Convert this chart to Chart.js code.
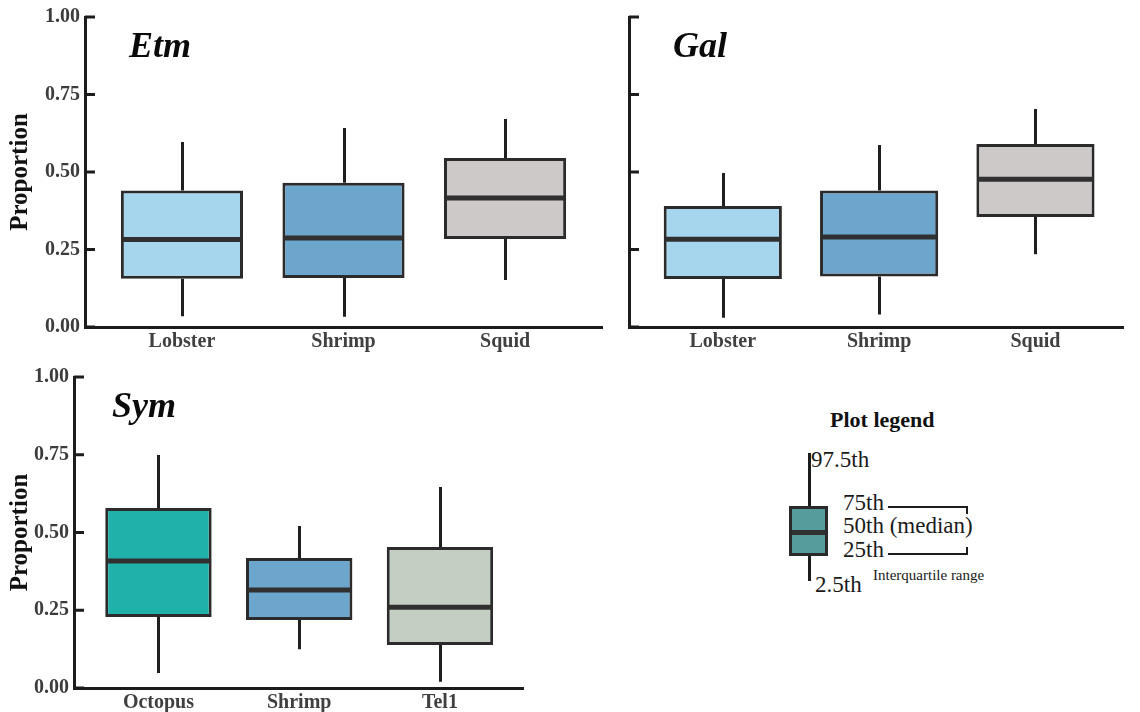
<!DOCTYPE html>
<html>
<head>
<meta charset="utf-8">
<script src="https://cdn.jsdelivr.net/npm/chart.js@4.4.1/dist/chart.umd.min.js"></script>
<style>
html,body{margin:0;padding:0;background:#fff;}
#wrap{position:relative;width:1140px;height:712px;overflow:hidden;font-family:"Liberation Serif","Times New Roman",serif;}
.panel{position:absolute;}
.t{position:absolute;line-height:1;white-space:nowrap;color:#111;}
.title{font-weight:bold;font-style:italic;font-size:36px;color:#0a0a0a;}
.lg{font-size:23px;color:#1a1a1a;}
.ln{position:absolute;background:#1c1c1c;}
</style>
</head>
<body>
<div id="wrap">
  <div class="panel" style="left:0;top:0;width:610px;height:360px"><canvas id="cEtm"></canvas></div>
  <div class="panel" style="left:610px;top:0;width:530px;height:360px"><canvas id="cGal"></canvas></div>
  <div class="panel" style="left:0;top:360px;width:560px;height:352px"><canvas id="cSym"></canvas></div>

  <div class="t title" style="left:129px;top:27px">Etm</div>
  <div class="t title" style="left:673px;top:27px">Gal</div>
  <div class="t title" style="left:112px;top:387px">Sym</div>

  <!-- Plot legend -->
  <div class="t" style="left:830px;top:409px;font-weight:bold;font-size:22px;">Plot legend</div>
  <div class="ln" style="left:807.5px;top:453px;width:3px;height:54px"></div>
  <div class="ln" style="left:807.5px;top:555px;width:3px;height:26px"></div>
  <div style="position:absolute;left:789px;top:506px;width:33px;height:44px;border:3px solid #2a2a2a;background:#579c9c;"></div>
  <div class="ln" style="left:792px;top:529.5px;width:33px;height:5px;background:#303030"></div>
  <div class="t lg" style="left:811px;top:448px">97.5th</div>
  <div class="t lg" style="left:843px;top:491px">75th</div>
  <div class="t lg" style="left:843px;top:514px">50th (median)</div>
  <div class="t lg" style="left:843px;top:538px">25th</div>
  <div class="t lg" style="left:815px;top:573px">2.5th</div>
  <div class="t" style="left:873px;top:568px;font-size:15px;color:#1a1a1a">Interquartile range</div>
  <div style="position:absolute;left:888px;top:506px;width:78px;height:6px;border-top:2.5px solid #1c1c1c;border-right:2.5px solid #1c1c1c;"></div>
  <div style="position:absolute;left:888px;top:547px;width:78px;height:6px;border-bottom:2.5px solid #1c1c1c;border-right:2.5px solid #1c1c1c;"></div>
</div>

<script>
// ---------- Data ----------
const yTickValues = [0, 0.25, 0.5, 0.75, 1];

// Etm panel
const etmCategories = ['Lobster', 'Shrimp', 'Squid'];
const etmLow    = [0.035, 0.033, 0.152];   // 2.5th percentile
const etmQ1     = [0.156, 0.158, 0.284];   // 25th
const etmMedian = [0.282, 0.287, 0.416];   // 50th
const etmQ3     = [0.440, 0.465, 0.545];   // 75th
const etmHigh   = [0.597, 0.642, 0.671];   // 97.5th
const etmColors = ['#a6d5ee', '#6ca6cd', '#cdc9c9'];

// Gal panel
const galCategories = ['Lobster', 'Shrimp', 'Squid'];
const galLow    = [0.030, 0.040, 0.235];
const galQ1     = [0.155, 0.163, 0.355];
const galMedian = [0.283, 0.290, 0.477];
const galQ3     = [0.390, 0.440, 0.590];
const galHigh   = [0.497, 0.587, 0.703];
const galColors = ['#a6d5ee', '#6ca6cd', '#cdc9c9'];

// Sym panel
const symCategories = ['Octopus', 'Shrimp', 'Tel1'];
const symLow    = [0.048, 0.125, 0.020];
const symQ1     = [0.228, 0.219, 0.138];
const symMedian = [0.408, 0.315, 0.260];
const symQ3     = [0.579, 0.418, 0.453];
const symHigh   = [0.749, 0.521, 0.646];
const symColors = ['#20b2aa', '#6ca6cd', '#c3cfc2'];

// ---------- Box-plot parts plugin (whiskers, medians, inward ticks) ----------
const boxParts = {
  id: 'boxParts',
  beforeDatasetsDraw(chart) {
    const ds = chart.data.datasets[0];
    const meta = chart.getDatasetMeta(0);
    const y = chart.scales.y;
    const ctx = chart.ctx;
    ctx.save();
    ctx.strokeStyle = '#1f1f1f';
    ctx.lineWidth = 3;
    meta.data.forEach((bar, i) => {
      const px = Math.round(bar.x) + 0.5;
      ctx.beginPath();
      ctx.moveTo(px, y.getPixelForValue(ds.high[i]));
      ctx.lineTo(px, y.getPixelForValue(ds.data[i].y[1]));
      ctx.moveTo(px, y.getPixelForValue(ds.data[i].y[0]));
      ctx.lineTo(px, y.getPixelForValue(ds.low[i]));
      ctx.stroke();
    });
    ctx.restore();
  },
  afterDatasetsDraw(chart) {
    const ds = chart.data.datasets[0];
    const meta = chart.getDatasetMeta(0);
    const y = chart.scales.y;
    const ctx = chart.ctx;
    ctx.save();
    ctx.strokeStyle = '#303030';
    ctx.lineWidth = 5;
    meta.data.forEach((bar, i) => {
      const py = y.getPixelForValue(ds.median[i]);
      ctx.beginPath();
      ctx.moveTo(bar.x - bar.width / 2 + 2, py);
      ctx.lineTo(bar.x + bar.width / 2 - 2, py);
      ctx.stroke();
    });
    // inward tick marks on the y axis
    ctx.strokeStyle = '#1c1c1c';
    ctx.lineWidth = 3;
    const left = chart.chartArea.left;
    y.ticks.forEach((t, i) => {
      const py = y.getPixelForTick(i);
      ctx.beginPath();
      ctx.moveTo(left, py);
      ctx.lineTo(left + 10, py);
      ctx.stroke();
    });
    ctx.restore();
  }
};

const FONT = "'Liberation Serif', 'Times New Roman', serif";

function makeBoxChart(id, cats, low, q1, med, q3, high, colors, cfg) {
  const data = cats.map((c, i) => ({ x: i, y: [q1[i], q3[i]] }));
  return new Chart(document.getElementById(id), {
    type: 'bar',
    data: {
      datasets: [{
        data: data,
        low: low,
        high: high,
        median: med,
        backgroundColor: colors,
        borderColor: '#2b2b2b',
        borderWidth: 3,
        borderSkipped: false,
        barPercentage: 0.756,
        categoryPercentage: 1.0
      }]
    },
    options: {
      responsive: true,
      maintainAspectRatio: false,
      animation: false,
      layout: { padding: cfg.padding },
      plugins: { legend: { display: false }, tooltip: { enabled: false } },
      scales: {
        x: {
          type: 'linear',
          min: cfg.xmin,
          max: cfg.xmax,
          offset: false,
          grid: { display: false, drawTicks: false },
          border: { display: true, width: 3, color: '#1c1c1c' },
          afterBuildTicks: (s) => { s.ticks = cats.map((c, i) => ({ value: i })); },
          afterFit: (s) => { s.height = cfg.xHeight; },
          ticks: {
            autoSkip: false,
            maxRotation: 0,
            padding: 3,
            color: '#404040',
            font: { family: FONT, size: 20, weight: 'bold' },
            callback: (v) => cats[v]
          }
        },
        y: {
          min: 0,
          max: 1,
          grid: { display: false, drawTicks: false },
          border: { display: true, width: 3, color: '#1c1c1c' },
          afterBuildTicks: (s) => { s.ticks = yTickValues.map(v => ({ value: v })); },
          afterFit: (s) => { s.width = cfg.yWidth; },
          title: {
            display: cfg.showTitle,
            text: 'Proportion',
            color: '#111',
            font: { family: FONT, size: 25, weight: 'bold' },
            padding: { top: 6, bottom: 0 }
          },
          ticks: {
            display: cfg.showTicks,
            padding: 5,
            color: '#3c3c3c',
            font: { family: FONT, size: 20, weight: 'bold' },
            callback: (v) => Number(v).toFixed(2)
          }
        }
      }
    },
    plugins: [boxParts]
  });
}

makeBoxChart('cEtm', etmCategories, etmLow, etmQ1, etmMedian, etmQ3, etmHigh, etmColors,
  { padding: { left: 0, right: 8, top: 17, bottom: 0 }, xmin: -0.6, xmax: 2.6, xHeight: 33, yWidth: 85, showTitle: true, showTicks: true });

makeBoxChart('cGal', galCategories, galLow, galQ1, galMedian, galQ3, galHigh, galColors,
  { padding: { left: 0, right: 17, top: 17, bottom: 0 }, xmin: -0.6, xmax: 2.56, xHeight: 33, yWidth: 19, showTitle: false, showTicks: false });

makeBoxChart('cSym', symCategories, symLow, symQ1, symMedian, symQ3, symHigh, symColors,
  { padding: { left: 0, right: 37, top: 17, bottom: 0 }, xmin: -0.6, xmax: 2.59, xHeight: 24, yWidth: 74, showTitle: true, showTicks: true });
</script>
</body>
</html>
